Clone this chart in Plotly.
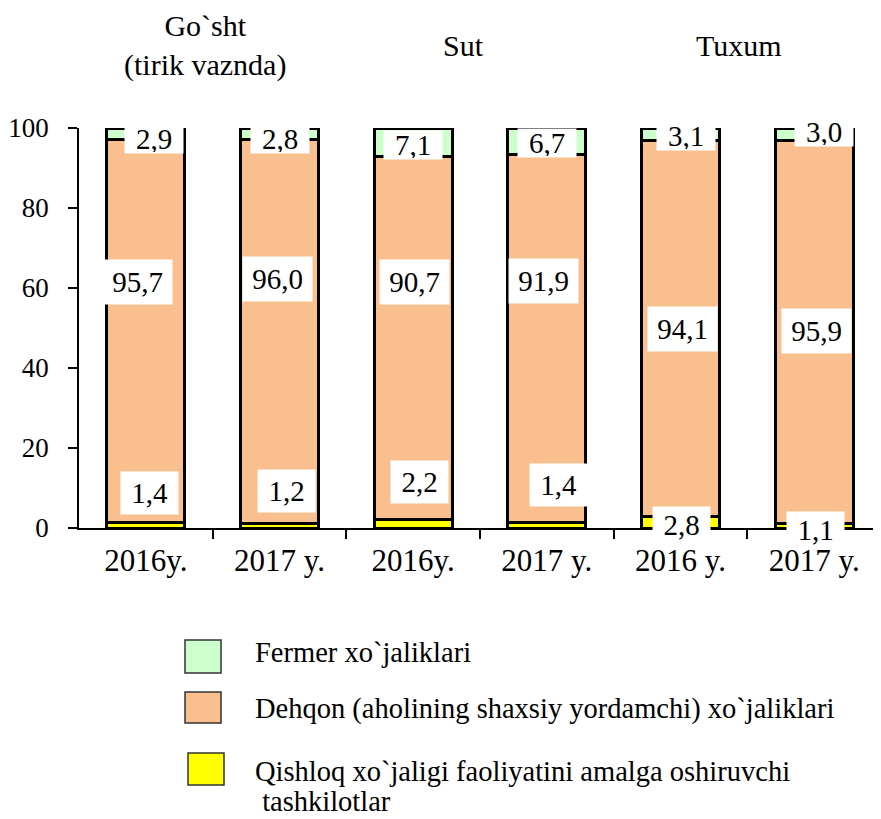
import plotly.graph_objects as go

# ---------------- data ----------------
categories = ["2016y.", "2017 y.", "2016y.", "2017 y.", "2016 y.", "2017 y."]
groups = ["Go`sht<br>(tirik vaznda)", "Sut", "Tuxum"]
series_names = [
    "Fermer xo`jaliklari",
    "Dehqon (aholining shaxsiy yordamchi) xo`jaliklari",
    "Qishloq xo`jaligi faoliyatini amalga oshiruvchi<br>&nbsp;tashkilotlar",
]
fermer = [2.9, 2.8, 7.1, 6.7, 3.1, 3.0]
dehqon = [95.7, 96.0, 90.7, 91.9, 94.1, 95.9]
qishloq = [1.4, 1.2, 2.2, 1.4, 2.8, 1.1]

# ---------------- label placement (layout only, in axis units) ----------------
top_y = [97.25, 97.25, 95.75, 96.25, 98.0, 99.0]
top_dx = [8, 0, 0, 0, 5, 10]
mid_y = [61.5, 62.25, 61.5, 61.75, 49.75, 49.25]
mid_dx = [-8, -2, 1, -3, 2, 2]
bot_y = [8.75, 9.25, 11.5, 10.75, 0.75, -0.5]
bot_dx = [4, 7, 6, 12, 1, 1]
group_x = [0.5, 2.5, 4.5]
group_dx = [-8, -17, -8]

FONT = "Liberation Serif, Times New Roman, serif"
colors = ["#CCFFCC", "#F9BF8F", "#FFFF00"]

# the page body has an 8px margin: work in page pixels, convert to figure pixels
OFF = 8
FIG_W, FIG_H = 881 - OFF, 819 - OFF
L, R, T, B = 79 - OFF, 881 - OFF, 128 - OFF, 528 - OFF
W, H = R - L, B - T
PX_PER_UNIT = H / 100.0


def pyy(p):  # page y pixel -> paper
    return (B - (p - OFF)) / H


def pxx(p):  # page x pixel -> paper
    return ((p - OFF) - L) / W


x = list(range(len(categories)))
fig = go.Figure()
for vals, idx in [(qishloq, 2), (dehqon, 1), (fermer, 0)]:
    fig.add_trace(go.Bar(
        x=x, y=vals, name=series_names[idx], width=0.585,
        marker=dict(color=colors[idx], line=dict(color="black", width=3)),
        showlegend=False, hoverinfo="skip",
    ))

fmt = lambda v: f"{v:.1f}".replace(".", ",")
lab_font = dict(family=FONT, size=29, color="black")
ann = []
for i in x:
    ann.append(dict(x=i, y=top_y[i], xref="x", yref="y", text=fmt(fermer[i]), showarrow=False,
                    xshift=top_dx[i], bgcolor="white", width=56, height=26, font=lab_font))
    ann.append(dict(x=i, y=mid_y[i], xref="x", yref="y", text=fmt(dehqon[i]), showarrow=False,
                    xshift=mid_dx[i], bgcolor="white", width=67, height=42, font=lab_font))
    ann.append(dict(x=i, y=0, xref="x", yref="y", yshift=bot_y[i] * PX_PER_UNIT,
                    text=fmt(qishloq[i]), showarrow=False,
                    xshift=bot_dx[i], bgcolor="white", width=55, height=40 if i < 4 else 34,
                    font=lab_font))

for g, gx, dx in zip(groups, group_x, group_dx):
    ann.append(dict(x=gx, y=pyy(46), xref="x", yref="paper", text=g, showarrow=False,
                    xshift=dx, yanchor="middle", font=dict(family=FONT, size=30, color="black")))

# manual legend (page pixel positions)
legend_boxes = [(185, 640, 221, 673), (185, 692, 221, 723), (188, 753, 224, 785)]
legend_text_y = [[652], [709], [771, 801]]
shapes = []
for (x0, y0, x1, y1), c, name, tys in zip(legend_boxes, colors, series_names, legend_text_y):
    shapes.append(dict(type="rect", xref="paper", yref="paper",
                       x0=pxx(x0), x1=pxx(x1), y0=pyy(y1), y1=pyy(y0),
                       fillcolor=c, line=dict(color="#333333", width=1.5)))
    for line, ty in zip(name.split("<br>"), tys):
        ann.append(dict(x=pxx(253), y=pyy(ty), xref="paper", yref="paper", text=line,
                        showarrow=False, xanchor="left", yanchor="middle", align="left",
                        font=dict(family=FONT, size=28.5, color="black")))

fig.update_layout(
    width=FIG_W, height=FIG_H,
    margin=dict(l=L, r=FIG_W - R, t=T, b=FIG_H - B, pad=0),
    paper_bgcolor="white", plot_bgcolor="white",
    barmode="stack",
    showlegend=False,
    annotations=ann,
    shapes=shapes,
    font=dict(family=FONT, size=29, color="black"),
)
fig.update_xaxes(
    range=[-0.5, 5.5], tickmode="array", tickvals=x, ticktext=categories,
    ticks="", showline=True, linecolor="black", linewidth=1.5, showgrid=False, zeroline=False,
    tickfont=dict(family=FONT, size=31, color="black"), ticklabelstandoff=4,
    minor=dict(tickmode="array", tickvals=[0.5, 1.5, 2.5, 3.5, 4.5], ticks="outside",
               ticklen=9, tickwidth=1.5, tickcolor="black", showgrid=False),
)
fig.update_yaxes(
    range=[0, 100], tickmode="array", tickvals=[0, 20, 40, 60, 80, 100],
    ticks="outside", ticklen=9, tickwidth=1.5, tickcolor="black",
    showline=True, linecolor="black", linewidth=1.5, showgrid=False, zeroline=False,
    tickfont=dict(family=FONT, size=27, color="black"), ticklabelstandoff=14,
)

fig.write_html("out.html")
